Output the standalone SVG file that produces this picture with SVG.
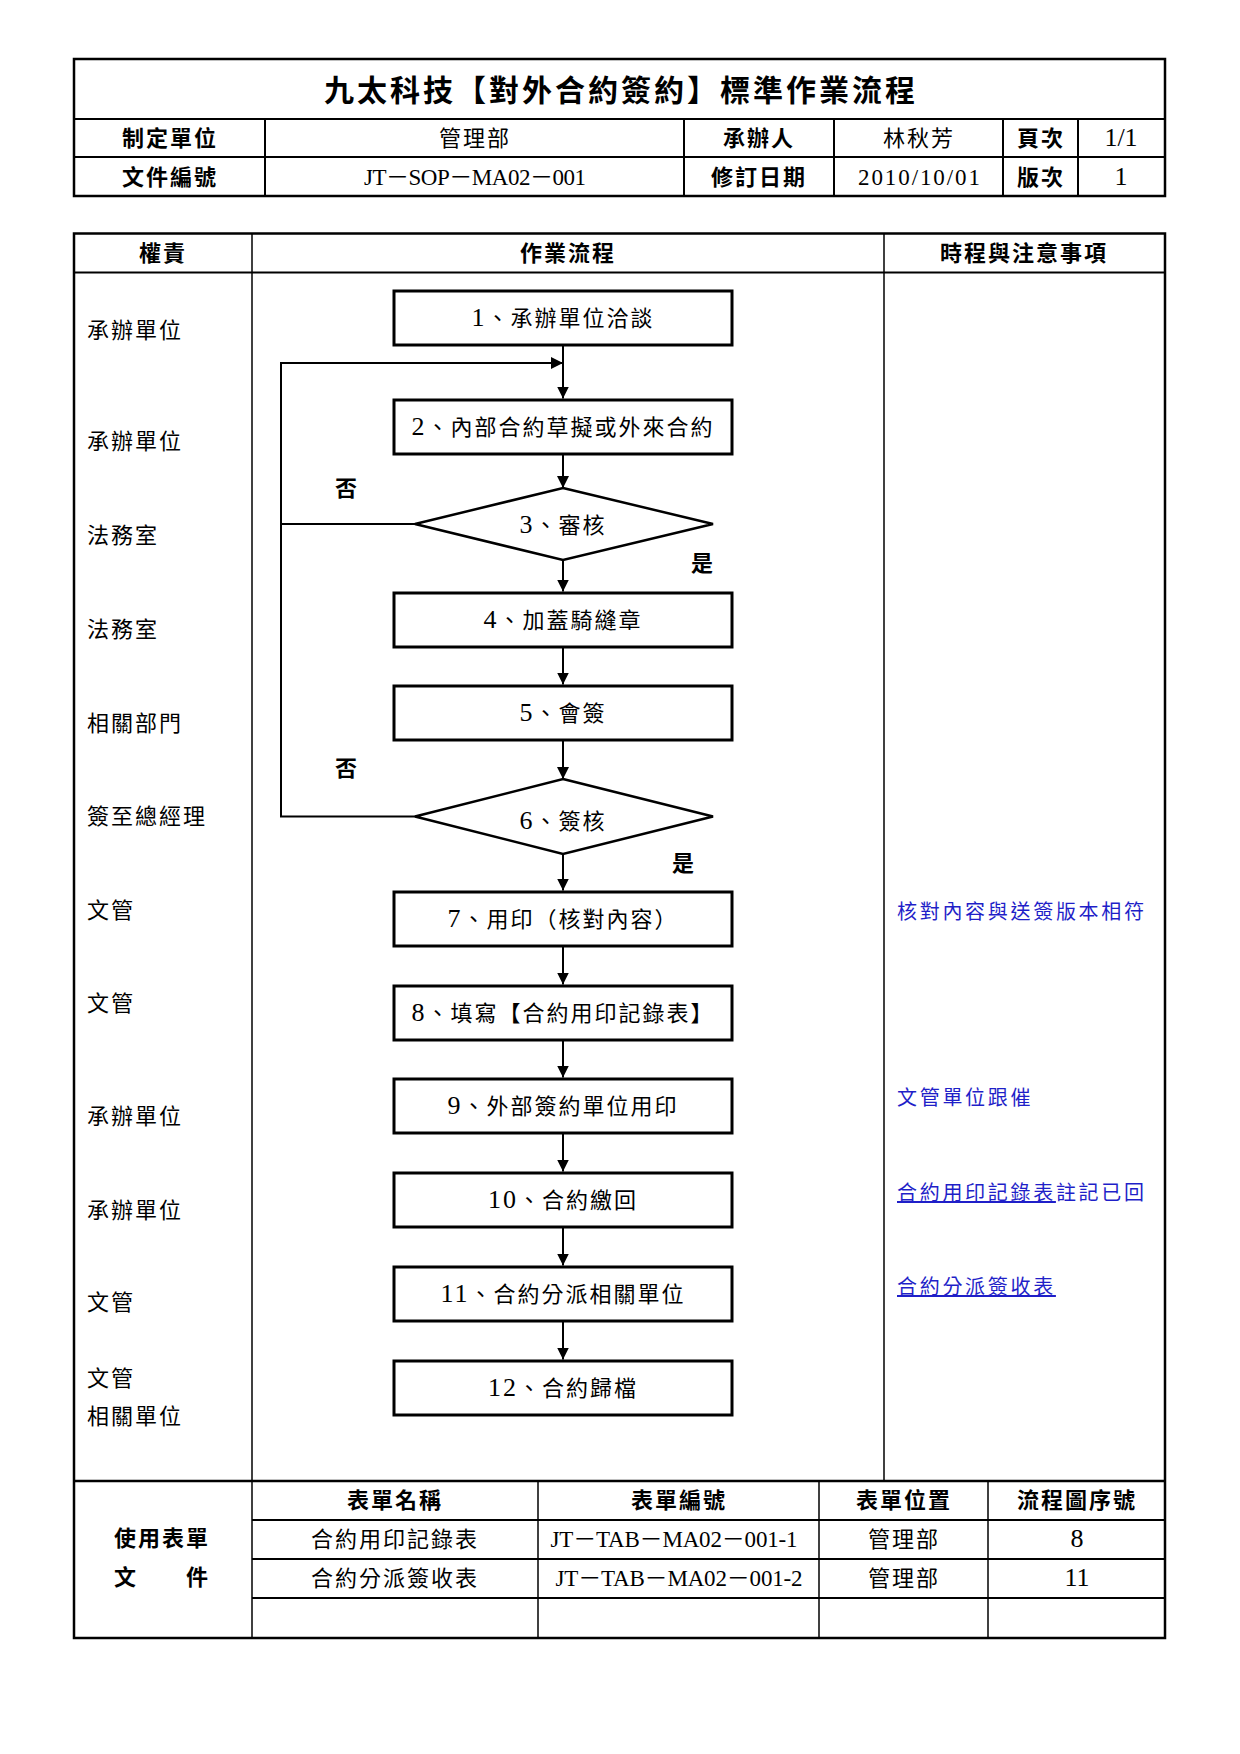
<svg xmlns="http://www.w3.org/2000/svg" width="1240" height="1754" viewBox="0 0 1240 1754">
<style>
.t{font-family:'Liberation Serif','Noto Sans CJK TC',serif;font-size:22px;letter-spacing:2px;fill:#000}
.b{font-weight:700}
.c{text-anchor:middle}
.n{font-size:26px}
.code{font-size:23px;letter-spacing:0}
.note{fill:#1f1fc8;font-size:20px;letter-spacing:2.7px}
.u{text-decoration:underline}
.box{fill:#fff;stroke:#000;stroke-width:3}
.dec{fill:#fff;stroke:#000;stroke-width:2.5}
.conn{fill:none;stroke:#000;stroke-width:2}
.frame{fill:none;stroke:#000;stroke-width:2.5}
.ln{stroke:#000;stroke-width:2}
.lt{stroke:#000;stroke-width:1.5}
</style>
<defs>
<marker id="ah" markerUnits="userSpaceOnUse" markerWidth="12" markerHeight="12" refX="12" refY="6" orient="auto"><path d="M0,0 L12,6 L0,12 z" fill="#000"/></marker>
</defs>
<rect width="1240" height="1754" fill="#fff"/>

<g id="header-table">
<rect class="frame" x="74" y="59" width="1091" height="137"/>
<line class="ln" x1="74" y1="119" x2="1165" y2="119"/>
<line class="ln" x1="74" y1="157" x2="1165" y2="157"/>
<line class="ln" x1="265" y1="119" x2="265" y2="196"/>
<line class="ln" x1="684" y1="119" x2="684" y2="196"/>
<line class="ln" x1="834" y1="119" x2="834" y2="196"/>
<line class="ln" x1="1003" y1="119" x2="1003" y2="196"/>
<line class="ln" x1="1078" y1="119" x2="1078" y2="196"/>
<text class="t b c" x="621" y="101" style="font-size:30px;letter-spacing:3px">九太科技【對外合約簽約】標準作業流程</text>
<text class="t b c" x="170" y="146">制定單位</text>
<text class="t c" x="475" y="146">管理部</text>
<text class="t b c" x="759" y="146">承辦人</text>
<text class="t c" x="919" y="146">林秋芳</text>
<text class="t b c" x="1041" y="146">頁次</text>
<text class="t c n" x="1121" y="146" style="letter-spacing:0">1/1</text>
<text class="t b c" x="170" y="185">文件編號</text>
<text class="t c code" x="475" y="185" textLength="222" lengthAdjust="spacing">JT－SOP－MA02－001</text>
<text class="t b c" x="759" y="185">修訂日期</text>
<text class="t c code" x="919" y="185" textLength="122" lengthAdjust="spacing">2010/10/01</text>
<text class="t b c" x="1041" y="185">版次</text>
<text class="t c n" x="1121" y="185" style="letter-spacing:0">1</text>
</g>

<g id="main-table">
<rect class="frame" x="74" y="233.5" width="1091" height="1404.5"/>
<line class="ln" x1="74" y1="272.5" x2="1165" y2="272.5"/>
<line class="lt" x1="252" y1="233.5" x2="252" y2="1638"/>
<line class="lt" x1="884" y1="233.5" x2="884" y2="1481"/>
<line class="frame" x1="74" y1="1481" x2="1165" y2="1481"/>
<text class="t b c" x="163" y="261">權責</text>
<text class="t b c" x="568" y="261">作業流程</text>
<text class="t b c" x="1024" y="261">時程與注意事項</text>
</g>

<g id="lanes">
<text class="t" x="87" y="338">承辦單位</text>
<text class="t" x="87" y="449">承辦單位</text>
<text class="t" x="87" y="543">法務室</text>
<text class="t" x="87" y="637">法務室</text>
<text class="t" x="87" y="731">相關部門</text>
<text class="t" x="87" y="824">簽至總經理</text>
<text class="t" x="87" y="918">文管</text>
<text class="t" x="87" y="1011">文管</text>
<text class="t" x="87" y="1124">承辦單位</text>
<text class="t" x="87" y="1218">承辦單位</text>
<text class="t" x="87" y="1310">文管</text>
<text class="t" x="87" y="1386">文管</text>
<text class="t" x="87" y="1424">相關單位</text>
</g>

<g id="connectors">
<line class="conn" x1="563" y1="345" x2="563" y2="398.5" marker-end="url(#ah)"/>
<path class="conn" d="M415,816.5 H281 V363 H563" marker-end="url(#ah)"/>
<line class="conn" x1="415" y1="524" x2="281" y2="524"/>
<line class="conn" x1="563" y1="455" x2="563" y2="488" marker-end="url(#ah)"/>
<line class="conn" x1="563" y1="560" x2="563" y2="591.5" marker-end="url(#ah)"/>
<line class="conn" x1="563" y1="648" x2="563" y2="684.5" marker-end="url(#ah)"/>
<line class="conn" x1="563" y1="741" x2="563" y2="779" marker-end="url(#ah)"/>
<line class="conn" x1="563" y1="854" x2="563" y2="890.5" marker-end="url(#ah)"/>
<line class="conn" x1="563" y1="947" x2="563" y2="984.5" marker-end="url(#ah)"/>
<line class="conn" x1="563" y1="1041" x2="563" y2="1077.5" marker-end="url(#ah)"/>
<line class="conn" x1="563" y1="1134" x2="563" y2="1171.5" marker-end="url(#ah)"/>
<line class="conn" x1="563" y1="1228" x2="563" y2="1265.5" marker-end="url(#ah)"/>
<line class="conn" x1="563" y1="1322" x2="563" y2="1359.5" marker-end="url(#ah)"/>
<text class="t b c" x="347" y="496">否</text>
<text class="t b c" x="347" y="776">否</text>
<text class="t b c" x="703" y="571">是</text>
<text class="t b c" x="684" y="871">是</text>
</g>

<g id="step1"><rect class="box" x="394" y="291" width="338" height="54"/><text class="t c" x="563" y="326"><tspan class="n">1</tspan>、承辦單位洽談</text></g>
<g id="step2"><rect class="box" x="394" y="400" width="338" height="54"/><text class="t c" x="563" y="435"><tspan class="n">2</tspan>、內部合約草擬或外來合約</text></g>
<g id="step3"><polygon class="dec" points="563,488 713,524 563,560 415,524"/><text class="t c" x="563" y="533"><tspan class="n">3</tspan>、審核</text></g>
<g id="step4"><rect class="box" x="394" y="593" width="338" height="54"/><text class="t c" x="563" y="628"><tspan class="n">4</tspan>、加蓋騎縫章</text></g>
<g id="step5"><rect class="box" x="394" y="686" width="338" height="54"/><text class="t c" x="563" y="721"><tspan class="n">5</tspan>、會簽</text></g>
<g id="step6"><polygon class="dec" points="563,779 713,816.5 563,854 415,816.5"/><text class="t c" x="563" y="829"><tspan class="n">6</tspan>、簽核</text></g>
<g id="step7"><rect class="box" x="394" y="892" width="338" height="54"/><text class="t c" x="563" y="927"><tspan class="n">7</tspan>、用印（核對內容）</text></g>
<g id="step8"><rect class="box" x="394" y="986" width="338" height="54"/><text class="t c" x="563" y="1021"><tspan class="n">8</tspan>、填寫【合約用印記錄表】</text></g>
<g id="step9"><rect class="box" x="394" y="1079" width="338" height="54"/><text class="t c" x="563" y="1114"><tspan class="n">9</tspan>、外部簽約單位用印</text></g>
<g id="step10"><rect class="box" x="394" y="1173" width="338" height="54"/><text class="t c" x="563" y="1208"><tspan class="n">10</tspan>、合約繳回</text></g>
<g id="step11"><rect class="box" x="394" y="1267" width="338" height="54"/><text class="t c" x="563" y="1302"><tspan class="n">11</tspan>、合約分派相關單位</text></g>
<g id="step12"><rect class="box" x="394" y="1361" width="338" height="54"/><text class="t c" x="563" y="1396"><tspan class="n">12</tspan>、合約歸檔</text></g>

<g id="notes">
<text class="t note" x="897" y="919">核對內容與送簽版本相符</text>
<text class="t note" x="897" y="1105">文管單位跟催</text>
<text class="t note" x="897" y="1200"><tspan class="u">合約用印記錄表</tspan>註記已回</text>
<text class="t note" x="897" y="1294"><tspan class="u">合約分派簽收表</tspan></text>
</g>

<g id="forms-table">
<line class="ln" x1="252" y1="1520" x2="1165" y2="1520"/>
<line class="ln" x1="252" y1="1559" x2="1165" y2="1559"/>
<line class="ln" x1="252" y1="1598" x2="1165" y2="1598"/>
<line class="lt" x1="538" y1="1481" x2="538" y2="1638"/>
<line class="lt" x1="819" y1="1481" x2="819" y2="1638"/>
<line class="lt" x1="988" y1="1481" x2="988" y2="1638"/>
<text class="t b" x="114" y="1546">使用表單</text>
<text class="t b" x="114" y="1585">文　　件</text>
<text class="t b c" x="395" y="1508">表單名稱</text>
<text class="t b c" x="679" y="1508">表單編號</text>
<text class="t b c" x="904" y="1508">表單位置</text>
<text class="t b c" x="1077" y="1508">流程圖序號</text>
<text class="t c" x="395" y="1547">合約用印記錄表</text>
<text class="t c code" x="674" y="1547" textLength="247" lengthAdjust="spacing">JT－TAB－MA02－001-1</text>
<text class="t c" x="904" y="1547">管理部</text>
<text class="t c n" x="1077" y="1547" style="letter-spacing:0">8</text>
<text class="t c" x="395" y="1586">合約分派簽收表</text>
<text class="t c code" x="679" y="1586" textLength="247" lengthAdjust="spacing">JT－TAB－MA02－001-2</text>
<text class="t c" x="904" y="1586">管理部</text>
<text class="t c n" x="1077" y="1586" style="letter-spacing:0">11</text>
</g>
</svg>
